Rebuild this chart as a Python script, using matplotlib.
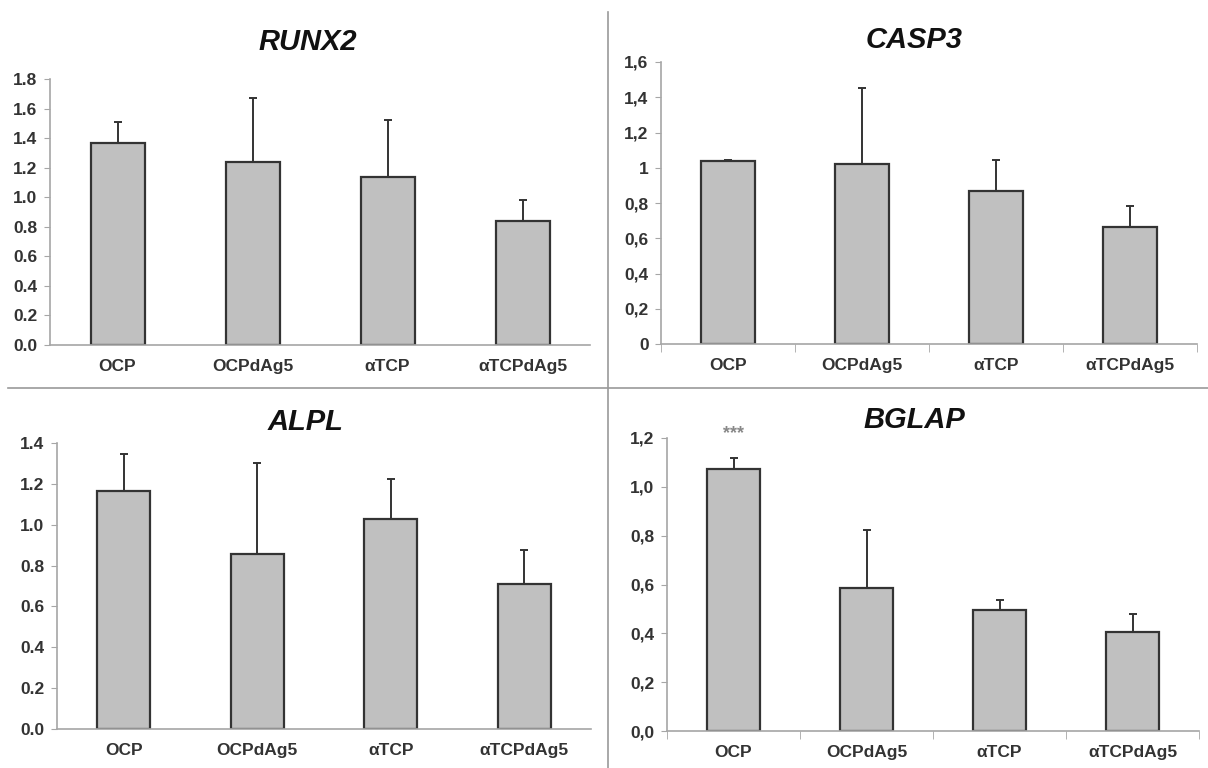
import matplotlib
matplotlib.use("Agg")
import matplotlib.pyplot as plt
from matplotlib.lines import Line2D
import numpy as np

plt.rcParams['font.family'] = ['Liberation Sans', 'DejaVu Sans']

groups = ['OCP', 'OCPdAg5', 'αTCP', 'αTCPdAg5']

# mean expression and top of error bar
runx2_mean = [1.37, 1.24, 1.14, 0.84]
runx2_top = [1.51, 1.67, 1.52, 0.98]
casp3_mean = [1.04, 1.02, 0.87, 0.665]
casp3_top = [1.045, 1.45, 1.045, 0.785]
alpl_mean = [1.165, 0.855, 1.03, 0.71]
alpl_top = [1.345, 1.30, 1.225, 0.875]
bglap_mean = [1.075, 0.585, 0.495, 0.405]
bglap_top = [1.12, 0.825, 0.535, 0.48]

W, H = 1208, 768
fig = plt.figure(figsize=(W / 100, H / 100), dpi=100)


def px_axes(left, right, top, bottom):
    return fig.add_axes([left / W, 1 - bottom / H, (right - left) / W, (bottom - top) / H])


def panel(ax, name, mean, top, ymax, step, labels, boundary_ticks, title_xy):
    x = np.arange(len(groups))
    mean = np.array(mean)
    err = np.array(top) - mean
    ax.bar(x, mean, width=0.4, color='#c0c0c0', edgecolor='#333333', linewidth=1.6, zorder=2)
    ax.errorbar(x, mean, yerr=[np.zeros_like(err), err], fmt='none',
                ecolor='#333333', elinewidth=1.4, capsize=3, capthick=1.4, zorder=1)
    ax.set_xlim(-0.5, len(groups) - 0.5)
    ax.set_ylim(0, ymax)
    ticks = np.arange(0, ymax + step / 2, step)
    ax.set_yticks(ticks)
    ax.set_yticklabels(labels)
    ax.set_xticks(x)
    ax.set_xticklabels(groups)
    for s in ['top', 'right']:
        ax.spines[s].set_visible(False)
    for s in ['left', 'bottom']:
        ax.spines[s].set_color('#a6a6a6')
        ax.spines[s].set_linewidth(1.2)
    ax.tick_params(axis='y', length=4, color='#a6a6a6', labelsize=12.5, labelcolor='#333333', pad=5)
    ax.tick_params(axis='x', length=0, labelsize=12.5, labelcolor='#333333', pad=10)
    for t in ax.get_xticklabels() + ax.get_yticklabels():
        t.set_fontweight('bold')
    if boundary_ticks:
        ax.set_xticks(np.arange(-0.5, len(groups)), minor=True)
        ax.tick_params(axis='x', which='minor', length=6, color='#a6a6a6')
    fig.text(title_xy[0] / W, 1 - title_xy[1] / H, name, ha='center', va='center',
             fontsize=21, fontweight='bold', fontstyle='italic', color='#111111')


ax1 = px_axes(50, 590, 79, 345)
panel(ax1, 'RUNX2', runx2_mean, runx2_top, 1.8, 0.2,
      ['%.1f' % v for v in np.arange(0, 1.81, 0.2)], False, (308, 42))

ax2 = px_axes(661, 1197, 62, 344)
panel(ax2, 'CASP3', casp3_mean, casp3_top, 1.6, 0.2,
      ['0', '0,2', '0,4', '0,6', '0,8', '1', '1,2', '1,4', '1,6'], True, (914, 40))

ax3 = px_axes(57, 591, 443, 729)
panel(ax3, 'ALPL', alpl_mean, alpl_top, 1.4, 0.2,
      ['%.1f' % v for v in np.arange(0, 1.41, 0.2)], False, (306, 422))

ax4 = px_axes(667, 1199, 438, 731)
panel(ax4, 'BGLAP', bglap_mean, bglap_top, 1.2, 0.2,
      [('%.1f' % v).replace('.', ',') for v in np.arange(0, 1.21, 0.2)], True, (914, 420))
ax4.text(0, 1.22, '***', ha='center', va='center', fontsize=13, color='#888888',
         fontweight='bold', clip_on=False)

# panel dividers
fig.add_artist(Line2D([608 / W, 608 / W], [0, 1 - 12 / H], transform=fig.transFigure,
                      color='#9a9a9a', linewidth=1.2))
fig.add_artist(Line2D([8 / W, 1], [1 - 388 / H, 1 - 388 / H], transform=fig.transFigure,
                      color='#9a9a9a', linewidth=1.2))

fig.savefig('out.png', dpi=100, facecolor='white')
